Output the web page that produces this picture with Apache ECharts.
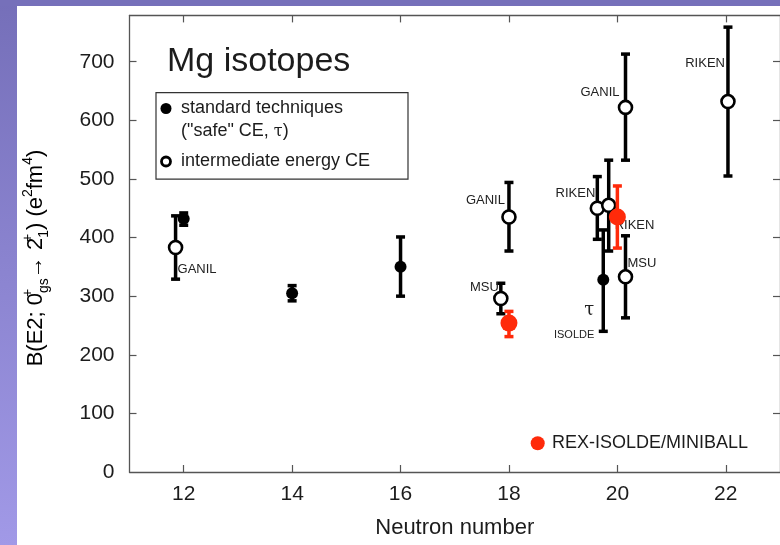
<!DOCTYPE html>
<html>
<head>
<meta charset="utf-8">
<title>Mg isotopes B(E2)</title>
<script src="https://cdn.jsdelivr.net/npm/echarts@6/dist/echarts.min.js"></script>
<style>
  html, body { margin: 0; padding: 0; background: #fff; }
  #page { position: relative; width: 780px; height: 545px; overflow: hidden; background: #fff; }
  #strip-left { position: absolute; left: 0; top: 0; width: 17px; height: 545px;
    background: linear-gradient(to bottom, #756fb9, #a199e7); }
  #strip-top { position: absolute; left: 0; top: 0; width: 780px; height: 6px; background: #7670ba; }
  #chart { position: absolute; left: 0; top: 0; width: 780px; height: 545px; }
</style>
</head>
<body>
<div id="page">
  <div id="strip-left"></div>
  <div id="strip-top"></div>
  <div id="chart"></div>
</div>
<script>
// Axis ticks
const xTicks = [12, 14, 16, 18, 20, 22];
const yTickMarks = [100, 200, 300, 400, 500, 600, 700];
const yTickLabels = [0, 100, 200, 300, 400, 500, 600, 700];

// Standard techniques (safe Coulomb excitation, lifetimes)
const stdN  = [12, 14, 16, 19.74];
const stdB  = [432, 305, 350, 328];
const stdLo = [421, 292, 300, 240];
const stdHi = [442, 318, 401, 413];

// Intermediate energy Coulomb excitation
const ceN   = [11.85, 17.85, 18, 19.63, 19.84, 20.15, 20.15, 22.04];
const ceB   = [383, 296, 435, 450, 455, 622, 333, 632];
const ceLo  = [329, 270, 377, 397, 377, 532, 263, 505];
const ceHi  = [437, 322, 494, 504, 532, 713, 403, 759];
const ceLab = ['GANIL', 'MSU', 'GANIL', 'RIKEN', 'RIKEN', 'GANIL', 'MSU', 'RIKEN'];

// REX-ISOLDE / MINIBALL
const rexN  = [18, 20];
const rexB  = [254, 435];
const rexLo = [231, 382];
const rexHi = [274, 488];

const FONT = "'Liberation Sans', Arial, Helvetica, sans-serif";
const INK = '#1c1c1c';
const RED = '#ff2a0a';
const AXIS = '#555';

// label placement for the intermediate-energy points: [align, dx, dy]
const ceTagPlace = [
  ['left', 2, 22], ['right', -2, -11], ['right', -4, -17], ['right', -2, -15],
  ['left', 6, 20], ['right', -6, -15], ['left', 2, -13], ['right', -3, -38]
];

function rows(n, b, lo, hi) {
  return n.map((v, i) => [v, b[i], lo[i], hi[i]]);
}

function errorBars(color) {
  return function (params, api) {
    const x = api.value(0);
    const top = api.coord([x, api.value(3)]);
    const bot = api.coord([x, api.value(2)]);
    const cap = 4.5;
    const st = { stroke: color, lineWidth: 3.5 };
    return {
      type: 'group',
      children: [
        { type: 'line', shape: { x1: top[0], y1: top[1], x2: bot[0], y2: bot[1] }, style: st },
        { type: 'line', shape: { x1: top[0] - cap, y1: top[1], x2: top[0] + cap, y2: top[1] }, style: st },
        { type: 'line', shape: { x1: bot[0] - cap, y1: bot[1], x2: bot[0] + cap, y2: bot[1] }, style: st }
      ]
    };
  };
}

const ceData = rows(ceN, ceB, ceLo, ceHi).map((r, i) => ({
  value: r,
  label: {
    show: true,
    formatter: ceLab[i],
    position: 'inside',
    align: ceTagPlace[i][0],
    verticalAlign: 'middle',
    offset: [ceTagPlace[i][1], ceTagPlace[i][2]],
    color: '#222',
    fontFamily: FONT,
    fontSize: 13
  }
}));

const stdData = rows(stdN, stdB, stdLo, stdHi).map((r, i) => {
  const item = { value: r };
  if (i === 3) {
    item.label = {
      show: true,
      formatter: '{tau|τ}\n{iso|ISOLDE}',
      position: 'inside',
      align: 'right',
      verticalAlign: 'middle',
      offset: [-9, 43],
      rich: {
        tau: { fontFamily: "'DejaVu Serif', 'Liberation Serif', serif", fontSize: 18, color: '#222', lineHeight: 24, align: 'right' },
        iso: { fontFamily: FONT, fontSize: 11, color: '#222', lineHeight: 24, align: 'right' }
      }
    };
  }
  return item;
});

const chart = echarts.init(document.getElementById('chart'), null, { renderer: 'canvas' });

const commonX = {
  type: 'value', min: 11, max: 23,
  splitLine: { show: false },
  axisLine: { show: true, onZero: false, lineStyle: { color: AXIS, width: 1.3 } },
  axisTick: { show: true, inside: true, length: 7, customValues: xTicks, lineStyle: { color: AXIS, width: 1.2 } }
};
const commonY = {
  type: 'value', min: 0, max: 779,
  splitLine: { show: false },
  axisLine: { show: true, onZero: false, lineStyle: { color: AXIS, width: 1.3 } },
  axisTick: { show: true, inside: true, length: 7, customValues: yTickMarks, lineStyle: { color: AXIS, width: 1.2 } }
};

chart.setOption({
  animation: false,
  backgroundColor: 'transparent',
  textStyle: { fontFamily: FONT },
  title: {
    text: 'Mg isotopes',
    left: 167, top: 45, padding: 0,
    textStyle: { fontFamily: FONT, fontSize: 34, fontWeight: 'normal', color: INK }
  },
  grid: { left: 129.5, top: 15.4, width: 654, height: 456.6, containLabel: false },
  xAxis: [
    Object.assign({}, commonX, {
      position: 'bottom',
      axisLabel: { customValues: xTicks, fontSize: 21, color: INK, margin: 12, fontFamily: FONT },
      name: 'Neutron number', nameLocation: 'middle', nameGap: 45,
      nameTextStyle: { fontSize: 22, color: INK, fontFamily: FONT }
    }),
    Object.assign({}, commonX, { position: 'top', axisLabel: { show: false } })
  ],
  yAxis: [
    Object.assign({}, commonY, {
      position: 'left',
      axisLabel: { customValues: yTickLabels, fontSize: 21, color: INK, margin: 15, fontFamily: FONT }
    }),
    Object.assign({}, commonY, { position: 'right', axisLabel: { show: false } })
  ],
  graphic: [
    // y axis title
    {
      type: 'text', x: 36, y: 258, rotation: Math.PI / 2, z: 10,
      style: {
        text: '{m|B(E2; 0}{sp|+}{sb|gs}{m|→ 2}{sp|+}{sb|1}{m|) (e}{su|2}{m|fm}{su|4}{m|)}',
        align: 'center', verticalAlign: 'middle',
        rich: {
          m:  { fontFamily: FONT, fontSize: 22, color: INK, lineHeight: 30, verticalAlign: 'middle' },
          sp: { fontFamily: FONT, fontSize: 14, color: INK, lineHeight: 14, verticalAlign: 'top', width: 0 },
          su: { fontFamily: FONT, fontSize: 14, color: INK, lineHeight: 14, verticalAlign: 'top' },
          sb: { fontFamily: FONT, fontSize: 14, color: INK, lineHeight: 14, verticalAlign: 'bottom' }
        }
      }
    },
    // key box
    {
      type: 'group', z: 20,
      children: [
        { type: 'rect', shape: { x: 156, y: 92.7, width: 252, height: 86.5 },
          style: { fill: '#fff', stroke: '#333', lineWidth: 1.2 } },
        { type: 'circle', shape: { cx: 166, cy: 108.5, r: 5.5 }, style: { fill: '#000' } },
        { type: 'text', x: 181, y: 108.5,
          style: { text: 'standard techniques', fontFamily: FONT, fontSize: 18, fill: INK, verticalAlign: 'middle' } },
        { type: 'text', x: 181, y: 131.5,
          style: { text: '{t|("safe" CE, }{g|τ}{t|)}', verticalAlign: 'middle',
            rich: { t: { fontFamily: FONT, fontSize: 18, fill: INK },
                    g: { fontFamily: "'DejaVu Serif', serif", fontSize: 16, fill: INK } } } },
        { type: 'circle', shape: { cx: 166, cy: 161.5, r: 4.5 },
          style: { fill: '#fff', stroke: '#000', lineWidth: 2.8 } },
        { type: 'text', x: 181, y: 161.5,
          style: { text: 'intermediate energy CE', fontFamily: FONT, fontSize: 18, fill: INK, verticalAlign: 'middle' } }
      ]
    },
    // REX-ISOLDE key
    { type: 'circle', z: 20, shape: { cx: 537.7, cy: 443.3, r: 7 }, style: { fill: RED } },
    { type: 'text', z: 20, x: 552, y: 443.3,
      style: { text: 'REX-ISOLDE/MINIBALL', fontFamily: FONT, fontSize: 18, fill: INK, verticalAlign: 'middle' } }
  ],
  series: [
    { name: 'standard techniques bars', type: 'custom', renderItem: errorBars('#000'),
      data: rows(stdN, stdB, stdLo, stdHi), z: 2, encode: { x: 0, y: 1 } },
    { name: 'intermediate energy CE bars', type: 'custom', renderItem: errorBars('#000'),
      data: rows(ceN, ceB, ceLo, ceHi), z: 2, encode: { x: 0, y: 1 } },
    { name: 'standard techniques', type: 'scatter', symbol: 'circle', symbolSize: 12,
      itemStyle: { color: '#000', opacity: 1 }, data: stdData, z: 3 },
    { name: 'intermediate energy CE', type: 'scatter', symbol: 'circle', symbolSize: 13,
      itemStyle: { color: '#fff', borderColor: '#000', borderWidth: 2.6, opacity: 1 }, data: ceData, z: 3 },
    { name: 'REX-ISOLDE/MINIBALL bars', type: 'custom', renderItem: errorBars(RED),
      data: rows(rexN, rexB, rexLo, rexHi), z: 5, encode: { x: 0, y: 1 } },
    { name: 'REX-ISOLDE/MINIBALL', type: 'scatter', symbol: 'circle', symbolSize: 17,
      itemStyle: { color: RED, opacity: 1 }, data: rows(rexN, rexB, rexLo, rexHi), z: 6 }
  ]
});
</script>
</body>
</html>
